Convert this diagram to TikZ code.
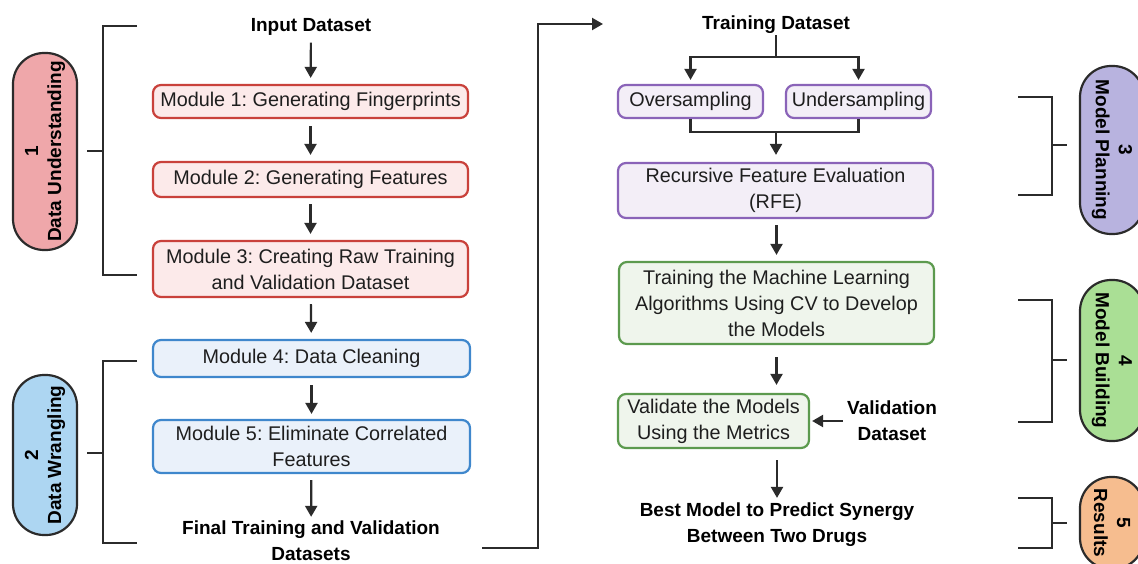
\documentclass[tikz,border=0pt]{standalone}
\usepackage{fontspec}
\setmainfont{Liberation Sans}
\usetikzlibrary{arrows.meta}
\definecolor{redb}{HTML}{C9413B}
\definecolor{redf}{HTML}{FCEAEA}
\definecolor{blueb}{HTML}{3F87CC}
\definecolor{bluef}{HTML}{EAF1FA}
\definecolor{purb}{HTML}{8A63B8}
\definecolor{purf}{HTML}{F3EEF7}
\definecolor{grnb}{HTML}{5C9A4E}
\definecolor{grnf}{HTML}{EFF5EC}
\definecolor{pa}{HTML}{EFA7AA}
\definecolor{pb}{HTML}{ADD6F2}
\definecolor{pc}{HTML}{B8B3DF}
\definecolor{pd}{HTML}{AADF95}
\definecolor{pe}{HTML}{F6BD8F}
\definecolor{lin}{HTML}{2B2B2B}
\definecolor{txt}{HTML}{1E1E1E}
\frenchspacing
\begin{document}
\begin{tikzpicture}[x=1pt,y=-1pt,
  box/.style={draw, line width=2.2pt, rounded corners=8pt, align=center, inner sep=0pt,
    font=\fontsize{19.8}{26}\selectfont, text=txt},
  redbox/.style={box, draw=redb, fill=redf},
  bluebox/.style={box, draw=blueb, fill=bluef},
  purbox/.style={box, draw=purb, fill=purf},
  grnbox/.style={box, draw=grnb, fill=grnf},
  lbl/.style={font=\bfseries\fontsize{19}{26}\selectfont, align=center, inner sep=1pt, text=black},
  arr/.style={line width=2.2pt, draw=lin, -{Triangle[length=11pt,width=12pt]}},
  brk/.style={line width=2.2pt, draw=lin},
  pill/.style={draw=lin, line width=2.2pt, rounded corners=31pt, minimum height=64pt,
    font=\bfseries\fontsize{19}{23}\selectfont, align=center, inner sep=0pt, text=black}
]
\useasboundingbox (0,0) rectangle (1138,564);
\clip (0,0) rectangle (1138,564);

% ---- left column ----
\node[lbl] (in) at (311,27) {Input Dataset};
\node[redbox, minimum width=315pt, minimum height=33pt] (m1) at (310.5,101.5) {Module 1: Generating Fingerprints};
\node[redbox, minimum width=315pt, minimum height=35pt] (m2) at (310.5,179.5) {Module 2: Generating Features};
\node[redbox, minimum width=315pt, minimum height=56pt] (m3) at (310.5,269) {Module 3: Creating Raw Training\\and Validation Dataset};
\node[bluebox, minimum width=317pt, minimum height=37pt] (m4) at (311.5,358.5) {Module 4: Data Cleaning};
\node[bluebox, minimum width=317pt, minimum height=53pt] (m5) at (311.5,446.5) {Module 5: Eliminate Correlated\\Features};
\node[lbl] (fin) at (311,541) {Final Training and Validation\\Datasets};

\draw[arr, shorten <=6pt, shorten >=6pt] (in) -- (m1);
\draw[arr, shorten <=7pt, shorten >=6pt] (m1) -- (m2);
\draw[arr, shorten <=6pt, shorten >=6pt] (m2) -- (m3);
\draw[arr, shorten <=6pt, shorten >=6pt] (m3) -- (m4);
\draw[arr, shorten <=7pt, shorten >=5pt] (m4) -- (m5);
\draw[arr, shorten <=6pt, shorten >=3pt] (m5) -- (fin);

% ---- left pills and brackets ----
\node[pill, fill=pa, minimum width=197pt, rotate=90] (p1) at (45,151.5) {1\\Data Understanding};
\node[pill, fill=pb, minimum width=160pt, rotate=90] (p2) at (45,455) {2\\Data Wrangling};
\coordinate (b1) at (103,151);
\coordinate (b2) at (103,453);
\draw[brk] (137,26) -- (103,26) -- (103,275) -- (137,275);
\draw[brk, shorten >=9pt] (b1) -- (b1 -| p1.south);
\draw[brk] (137,361) -- (103,361) -- (103,543) -- (137,543);
\draw[brk, shorten >=9pt] (b2) -- (b2 -| p2.south);

% ---- long connector ----
\coordinate (fo) at (482,548);
\coordinate (ti) at (603,24);
\draw[arr] (fo) -- (538,548) |- (ti);

% ---- right column ----
\node[lbl] (td) at (776,25) {Training Dataset};
\node[purbox, minimum width=145pt, minimum height=33pt] (over) at (690.5,101.5) {Oversampling};
\node[purbox, minimum width=145pt, minimum height=33pt] (under) at (858.5,101.5) {Undersampling};
\node[purbox, minimum width=315pt, minimum height=55pt] (rfe) at (775.5,190.5) {Recursive Feature Evaluation\\(RFE)};
\node[grnbox, minimum width=315pt, minimum height=82pt] (train) at (776.5,303) {Training the Machine Learning\\Algorithms Using CV to Develop\\the Models};
\node[grnbox, minimum width=191pt, minimum height=54pt] (val) at (713.5,421) {Validate the Models\\Using the Metrics};
\node[lbl] (vd) at (892,421) {Validation\\Dataset};
\node[lbl] (best) at (777,525) {Best Model to Predict Synergy\\Between Two Drugs};

\coordinate (split) at (776,57);
\coordinate (merge) at (776,132);
\draw[brk] (td.south) -- (split);
\draw[arr, shorten >=4pt] (split) -| (over.north);
\draw[arr, shorten >=4pt] (split) -| (under.north);
\draw[brk] (over.south) |- (merge) -| (under.south);
\draw[arr, shorten >=7pt] (merge) -- (merge |- rfe.north);
\draw[arr, shorten <=6pt, shorten >=6pt] (rfe.south -| train.north) -- (train.north);
\draw[arr, shorten <=12pt, shorten >=8pt] (train.south) -- (train.south |- val.north);
\draw[arr, shorten <=3pt, shorten >=2pt] (vd) -- (val);
\draw[arr, shorten <=11pt, shorten >=4pt] (val.south -| best.north) -- (best.north);

% ---- right pills and brackets ----
\node[pill, fill=pc, minimum width=168pt, rotate=-90] (p3) at (1112,150) {3\\Model Planning};
\node[pill, fill=pd, minimum width=161pt, rotate=-90] (p4) at (1112,360.5) {4\\Model Building};
\node[pill, fill=pe, minimum width=92pt, rotate=-90] (p5) at (1112,523) {5\\Results};
\coordinate (b3) at (1052,145);
\coordinate (b4) at (1052,360);
\coordinate (b5) at (1052,523);
\draw[brk] (1018,97) -- (1052,97) -- (1052,195) -- (1018,195);
\draw[brk, shorten >=12pt] (b3) -- (b3 -| p3.south);
\draw[brk] (1018,300) -- (1052,300) -- (1052,422) -- (1018,422);
\draw[brk, shorten >=12pt] (b4) -- (b4 -| p4.south);
\draw[brk] (1018,498) -- (1052,498) -- (1052,548) -- (1018,548);
\draw[brk, shorten >=12pt] (b5) -- (b5 -| p5.south);
\end{tikzpicture}
\end{document}
